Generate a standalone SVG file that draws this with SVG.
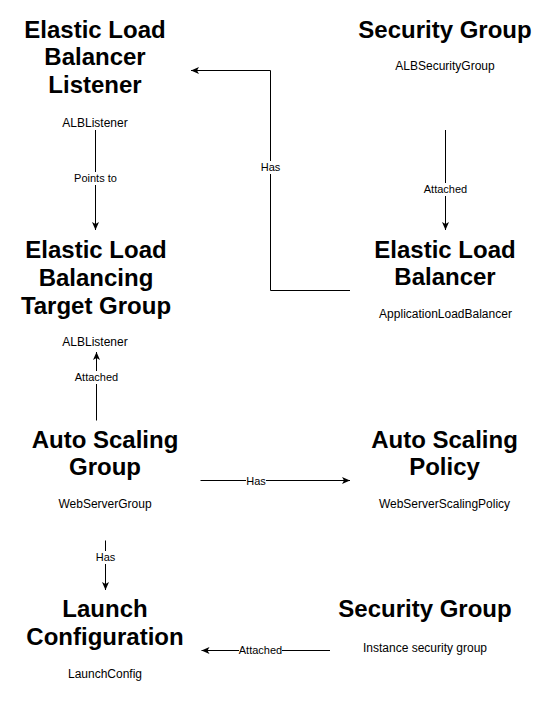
<svg xmlns="http://www.w3.org/2000/svg" width="541" height="711" viewBox="0 0 541 711">
  <defs>
    <style>
      .title { font-family: "Liberation Sans", Arial, Helvetica, sans-serif; font-weight: bold; font-size: 24px; fill: #000; text-anchor: middle; }
      .sub { font-family: "Liberation Sans", Arial, Helvetica, sans-serif; font-size: 12px; fill: #000; text-anchor: middle; }
      .elabel { font-family: "Liberation Sans", Arial, Helvetica, sans-serif; font-size: 11px; fill: #000; text-anchor: middle; }
      .edge { fill: none; stroke: #000; stroke-width: 1; }
      .lbg { fill: #fff; stroke: none; }
    </style>
    <marker id="arrow" markerUnits="userSpaceOnUse" markerWidth="10" markerHeight="9" refX="9" refY="4.5" orient="auto">
      <path d="M1,1 L9,4.5 L1,8 L3,4.5 z" fill="#000"/>
    </marker>
  </defs>
  <rect x="0" y="0" width="541" height="711" fill="#fff"/>

  <g id="connectors">
    <g id="edge-points-to">
      <line class="edge" x1="95.5" y1="130" x2="95.5" y2="230" marker-end="url(#arrow)"/>
      <rect class="lbg" x="74" y="172" width="43" height="13"/>
      <text class="elabel" x="95.5" y="182">Points to</text>
    </g>
    <g id="edge-attached-alb">
      <line class="edge" x1="445.5" y1="130" x2="445.5" y2="230" marker-end="url(#arrow)"/>
      <rect class="lbg" x="423" y="183" width="45" height="13"/>
      <text class="elabel" x="445.5" y="193">Attached</text>
    </g>
    <g id="edge-has-listener">
      <polyline class="edge" points="350,290.5 270.5,290.5 270.5,70.5 191,70.5" marker-end="url(#arrow)"/>
      <rect class="lbg" x="259" y="161" width="23" height="13"/>
      <text class="elabel" x="270.5" y="171">Has</text>
    </g>
    <g id="edge-attached-tg">
      <line class="edge" x1="96.5" y1="420.5" x2="96.5" y2="352" marker-end="url(#arrow)"/>
      <rect class="lbg" x="74" y="371" width="45" height="13"/>
      <text class="elabel" x="96.5" y="381">Attached</text>
    </g>
    <g id="edge-has-policy">
      <line class="edge" x1="200.5" y1="480.5" x2="350" y2="480.5" marker-end="url(#arrow)"/>
      <rect class="lbg" x="246" y="475" width="20" height="12"/>
      <text class="elabel" x="256" y="484.5">Has</text>
    </g>
    <g id="edge-has-launch">
      <line class="edge" x1="105.5" y1="540.5" x2="105.5" y2="590" marker-end="url(#arrow)"/>
      <rect class="lbg" x="94" y="551" width="23" height="13"/>
      <text class="elabel" x="105.5" y="561">Has</text>
    </g>
    <g id="edge-attached-launch">
      <line class="edge" x1="330" y1="650.5" x2="201.5" y2="650.5" marker-end="url(#arrow)"/>
      <rect class="lbg" x="239" y="645" width="43" height="12"/>
      <text class="elabel" x="260.5" y="654">Attached</text>
    </g>
  </g>

  <g id="node-alb-listener">
    <text class="title" x="95" y="37.5">Elastic Load</text>
    <text class="title" x="95" y="65">Balancer</text>
    <text class="title" x="95" y="92.5">Listener</text>
    <text class="sub" x="95" y="127">ALBListener</text>
  </g>

  <g id="node-target-group">
    <text class="title" x="96" y="258">Elastic Load</text>
    <text class="title" x="96" y="286">Balancing</text>
    <text class="title" x="96" y="314">Target Group</text>
    <text class="sub" x="95" y="346">ALBListener</text>
  </g>

  <g id="node-alb-security-group">
    <text class="title" x="445" y="38">Security Group</text>
    <text class="sub" x="445" y="70">ALBSecurityGroup</text>
  </g>

  <g id="node-elb">
    <text class="title" x="445" y="257.5">Elastic Load</text>
    <text class="title" x="445" y="285">Balancer</text>
    <text class="sub" x="445.5" y="318">ApplicationLoadBalancer</text>
  </g>

  <g id="node-asg">
    <text class="title" x="105" y="447.5">Auto Scaling</text>
    <text class="title" x="105" y="475">Group</text>
    <text class="sub" x="105" y="508">WebServerGroup</text>
  </g>

  <g id="node-asp">
    <text class="title" x="444.5" y="448">Auto Scaling</text>
    <text class="title" x="444.5" y="475">Policy</text>
    <text class="sub" x="444.5" y="508">WebServerScalingPolicy</text>
  </g>

  <g id="node-launch-config">
    <text class="title" x="105" y="617">Launch</text>
    <text class="title" x="105" y="645">Configuration</text>
    <text class="sub" x="105" y="678">LaunchConfig</text>
  </g>

  <g id="node-instance-security-group">
    <text class="title" x="425" y="617">Security Group</text>
    <text class="sub" x="425" y="651.5">Instance security group</text>
  </g>
</svg>
